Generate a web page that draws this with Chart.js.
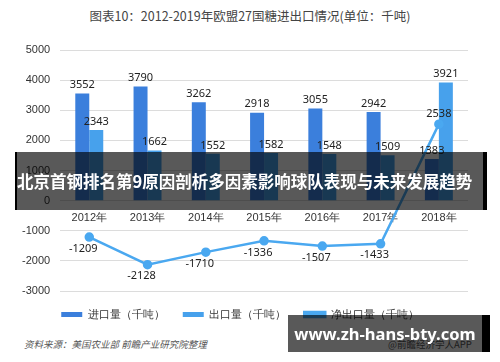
<!DOCTYPE html>
<html>
<head>
<meta charset="utf-8">
<script src="https://cdn.jsdelivr.net/npm/chart.js@4"></script>
<style>
  body { margin: 0; background: #fff; font-family: "Noto Sans CJK SC", "Noto Sans", sans-serif; }
  #wrap { position: relative; width: 500px; height: 362px; overflow: hidden; }
  #title { position: absolute; top: 6px; left: 0; width: 500px; text-align: center; font-size: 12.5px; color: #444; }
  #box { position: absolute; top: 0; left: 0; width: 500px; height: 330px; }
  #source { position: absolute; left: 24px; top: 337px; font-size: 9.5px; color: #555; font-style: italic; }
  #app { position: absolute; left: 388px; top: 337px; font-size: 9.5px; color: #555; }
  #banner { position: absolute; left: 15px; top: 152px; width: 466px; height: 58px; background: rgba(0,0,0,0.65);
            border-left: 2px solid #000; border-right: 4px solid #000;
            color: #fff; font-weight: bold; font-size: 16.5px; line-height: 58px; white-space: nowrap; }
  #url { position: absolute; left: 288px; top: 315px; width: 194px; height: 37px; background: rgba(0,0,0,0.65);
         border-right: 8px solid #000; color: #fff; font-weight: bold; font-size: 16.5px; line-height: 37px; text-align: center;
         font-family: "Noto Sans", sans-serif; white-space: nowrap; }
</style>
</head>
<body>
<div id="wrap">
  <div id="title">图表10：2012-2019年欧盟27国糖进出口情况(单位：千吨)</div>
  <div id="box"><canvas id="chart"></canvas></div>
  <div id="source">资料来源：美国农业部 前瞻产业研究院整理</div>
  <div id="app">@前瞻经济学人APP</div>
  <div id="banner">北京首钢排名第9原因剖析多因素影响球队表现与未来发展趋势</div>
  <div id="url">www.zh-hans-bty.com</div>
</div>
<script>
const years = ['2012年', '2013年', '2014年', '2015年', '2016年', '2017年', '2018年'];
const imports = [3552, 3790, 3262, 2918, 3055, 2942, 1383];
const exports = [2343, 1662, 1552, 1582, 1548, 1509, 3921];
const netExports = [-1209, -2128, -1710, -1336, -1507, -1433, 2538];

// draw value labels above bars and below line points
const valueLabels = {
  id: 'valueLabels',
  afterDatasetsDraw(chart) {
    const ctx = chart.ctx;
    ctx.save();
    ctx.font = '11px "Noto Sans", sans-serif';
    ctx.fillStyle = '#222';
    ctx.textAlign = 'center';
    chart.data.datasets.forEach((ds, i) => {
      const meta = chart.getDatasetMeta(i);
      meta.data.forEach((el, j) => {
        const v = ds.data[j];
        if (ds.type === 'line') {
          if (v > 0) {
            ctx.textBaseline = 'bottom';
            ctx.fillText(v, el.x, el.y - 5);
          } else {
            ctx.textBaseline = 'top';
            ctx.fillText(v, el.x - 6, el.y + 6);
          }
        } else {
          ctx.textBaseline = 'bottom';
          ctx.fillText(v, el.x, el.y - 3);
        }
      });
    });
    ctx.restore();
  }
};

const ctx = document.getElementById('chart').getContext('2d');
new Chart(ctx, {
  data: {
    labels: years,
    datasets: [
      {
        type: 'line',
        label: '净出口量（千吨）',
        data: netExports,
        borderColor: '#4aa8f0',
        backgroundColor: '#4aa8f0',
        borderWidth: 2.5,
        pointRadius: 3.5,
        tension: 0,
        order: 0
      },
      {
        type: 'bar',
        label: '进口量（千吨）',
        data: imports,
        backgroundColor: '#3b7fdc',
        categoryPercentage: 0.48,
        barPercentage: 1,
        order: 1
      },
      {
        type: 'bar',
        label: '出口量（千吨）',
        data: exports,
        backgroundColor: '#47a1ec',
        categoryPercentage: 0.48,
        barPercentage: 1,
        order: 1
      }
    ]
  },
  options: {
    responsive: true,
    maintainAspectRatio: false,
    animation: false,
    layout: { padding: { top: 50, right: 32, left: 12, bottom: 0 } },
    plugins: {
      title: { display: false },
      tooltip: { enabled: false },
      legend: {
        position: 'bottom',
        labels: {
          boxWidth: 21,
          boxHeight: 5,
          color: '#333',
          font: { size: 11 },
          padding: 18,
          sort: (a, b) => {
            const rank = { 1: 0, 2: 1, 0: 2 };
            return rank[a.datasetIndex] - rank[b.datasetIndex];
          }
        }
      }
    },
    scales: {
      x: {
        position: { y: 0 },
        grid: { display: false },
        border: { display: false },
        ticks: { color: '#333', font: { size: 11 } }
      },
      y: {
        min: -3000,
        max: 5000,
        ticks: {
          stepSize: 1000,
          color: '#333',
          font: { size: 11 },
          padding: 10,
          callback: (v) => String(v)
        },
        grid: { color: '#dcdcdc', drawTicks: false },
        border: { display: false }
      }
    }
  },
  plugins: [valueLabels]
});
</script>
</body>
</html>
